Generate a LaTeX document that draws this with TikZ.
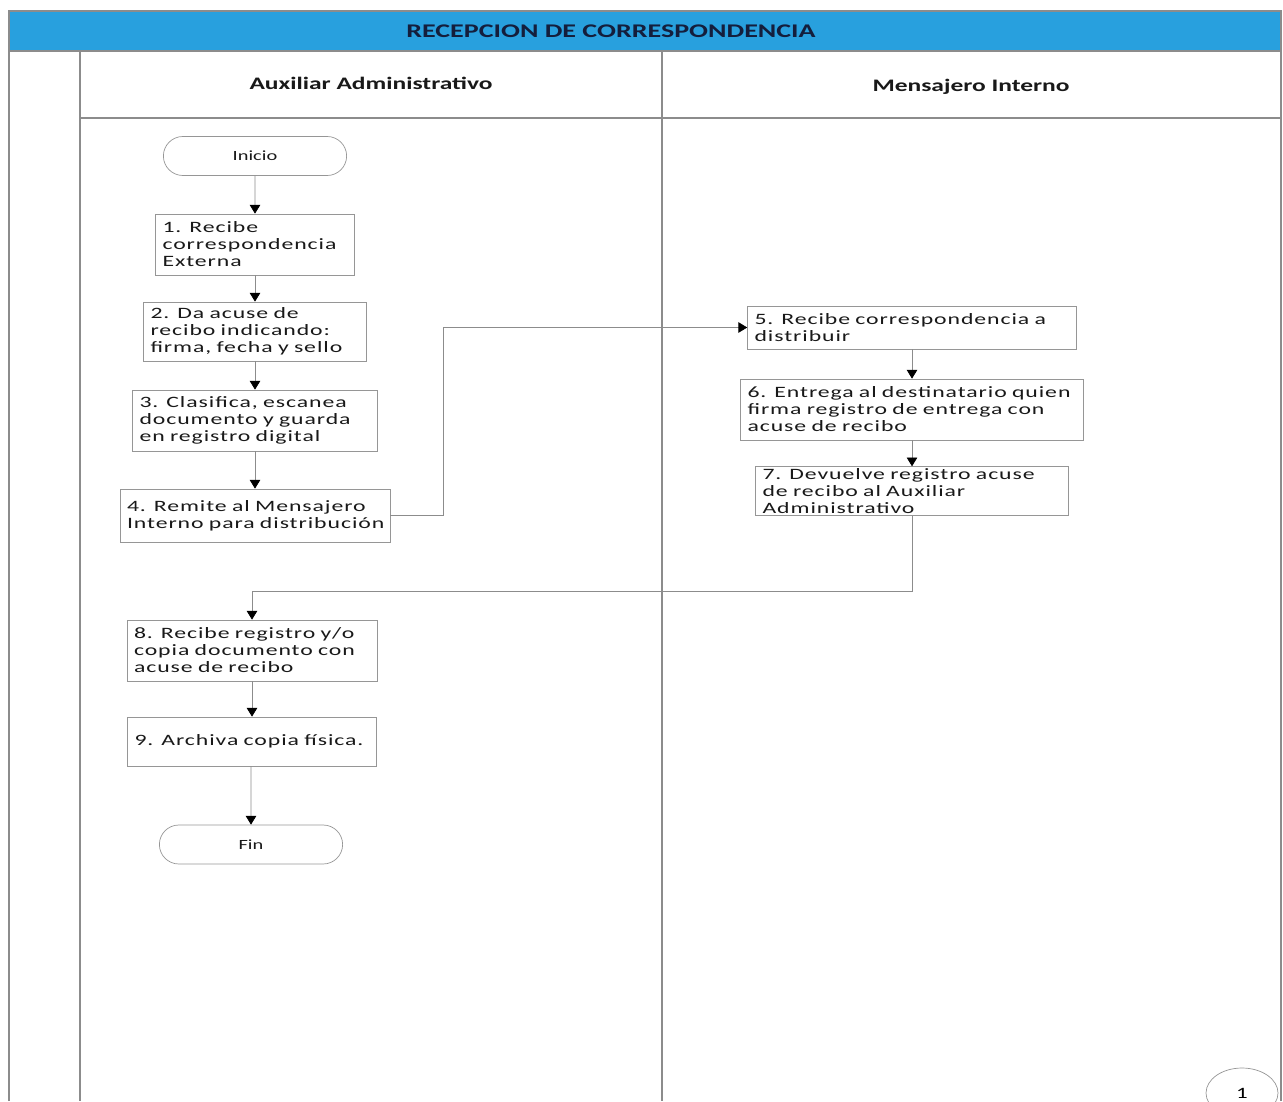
\documentclass[tikz,border=0pt]{standalone}
\usepackage{fontspec}
\setmainfont{Carlito}
\newfontfamily\widefont[FakeStretch=1.45]{Carlito}
\newfontfamily\boxfont[FakeStretch=1.5,LetterSpace=6]{Carlito}
\usepackage{tikz}
\usetikzlibrary{shapes.misc,shapes.geometric,arrows.meta}
\usepackage{xcolor}
\definecolor{titleblue}{RGB}{40,160,222}
\definecolor{titledark}{RGB}{20,30,60}
\definecolor{boxgray}{RGB}{150,150,150}
\definecolor{lanegray}{RGB}{140,140,140}
\definecolor{textdark}{RGB}{25,25,25}

\begin{document}
\begin{tikzpicture}[x=0.02cm,y=-0.02cm,
		stepbox/.style={draw=boxgray,fill=white,align=left,inner xsep=0.14cm,inner ysep=1pt,
			text=textdark,font=\boxfont\fontsize{9}{9.7}\selectfont},
		term/.style={draw=boxgray,rounded rectangle,minimum width=3.9cm,minimum height=0.78cm,
			text=textdark,font=\widefont\fontsize{8}{9}\selectfont},
		lanehead/.style={font=\widefont\bfseries\fontsize{10}{12}\selectfont,text=textdark,
			text height=1.6ex,text depth=0.4ex},
		flow/.style={draw=lanegray,-{Triangle[width=6pt,length=5pt,color=black]}},
		lane/.style={draw=lanegray,line width=0.6pt}]
			\path[use as bounding box,clip] (0,0) rectangle (1283,1101);
			% frame and lanes
			\fill[titleblue] (9,11) rectangle (1281,51);
			\draw[lane] (9,1101) -- (9,11) -- (1281,11) -- (1281,1101);
			\draw[lane] (9,51) -- (1281,51);
			\draw[lane] (80,51) -- (80,1101);
			\draw[lane] (662,51) -- (662,1101);
			\draw[lane] (80,118) -- (1281,118);
			\node[font=\widefont\bfseries\fontsize{11}{13}\selectfont,text=titledark] (titulo) at (611,31) {RECEPCION DE CORRESPONDENCIA};
			\node[lanehead] (auxiliar) at (371,84) {Auxiliar Administrativo};
			\node[lanehead] (mensajero) at (971,86) {Mensajero Interno};
			% steps
			\node[term] (inicio) at (255,156) {Inicio};
			\node[stepbox,text width=3.70cm,minimum height=1.22cm] (p1) at (255,244.5) {1. Recibe\\correspondencia\\Externa};
			\node[stepbox,text width=4.18cm,minimum height=1.18cm] (p2) at (255,331.5) {2. Da acuse de\\recibo indicando:\\firma, fecha y sello};
			\node[stepbox,text width=4.62cm,minimum height=1.22cm] (p3) at (255,420.5) {3. Clasifica, escanea\\documento y guarda\\en registro digital};
			\node[stepbox,text width=5.12cm,minimum height=1.06cm] (p4) at (255,515.5) {4. Remite al Mensajero\\Interno para distribución};
			\node[stepbox,text width=6.30cm,minimum height=0.86cm] (p5) at (912,327.5) {5. Recibe correspondencia a\\distribuir};
			\node[stepbox,text width=6.58cm,minimum height=1.22cm] (p6) at (912,409.5) {6. Entrega al destinatario quien\\firma registro de entrega con\\acuse de recibo};
			\node[stepbox,text width=5.98cm,minimum height=0.96cm] (p7) at (912,491) {7. Devuelve registro acuse\\de recibo al Auxiliar\\Administrativo};
			\node[stepbox,text width=4.72cm,minimum height=1.22cm] (p8) at (252,650.5) {8. Recibe registro y/o\\copia documento con\\acuse de recibo};
			\node[stepbox,text width=4.70cm,minimum height=0.98cm] (p9) at (252,741.5) {9. Archiva copia física.};
			\node[term] (fin) at (251,844.5) {Fin};
			\node[draw=boxgray,ellipse,minimum width=1.44cm,minimum height=1.0cm,font=\widefont\fontsize{9}{10}\selectfont] (pagina) at (1242,1093) {1};
			% connectors
			\foreach \De/\A in {inicio/p1,p1/p2,p2/p3,p3/p4,p5/p6,p6/p7,p8/p9}
				\draw[flow] (\De) -- (\A);
			\draw[flow] (p9.south -| fin) -- (fin);
			\coordinate (ida) at (443,515.5);
			\coordinate (vuelta) at (912,591);
			\draw[flow] (p4.east) -- (ida) |- (p5.west);
			\draw[flow] (p7.south) -- (vuelta) -| (p8.north);
		\end{tikzpicture}
\end{document}
